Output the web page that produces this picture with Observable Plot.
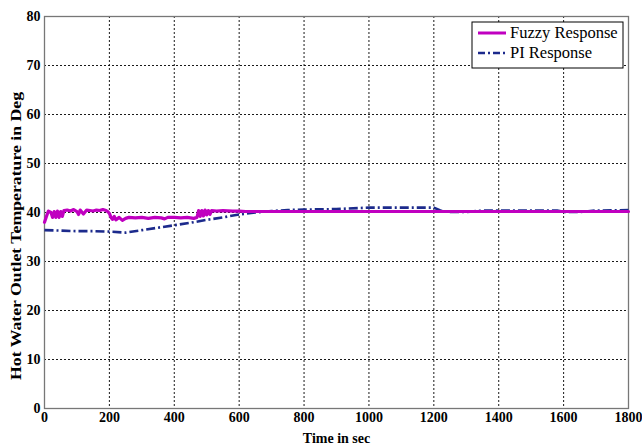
<!DOCTYPE html>
<html>
<head>
<meta charset="utf-8">
<script src="https://cdn.jsdelivr.net/npm/d3@7"></script>
<script src="https://cdn.jsdelivr.net/npm/@observablehq/plot@0.6"></script>
<style>
  html, body { margin: 0; padding: 0; background: #fff; }
  #chart { position: relative; width: 642px; height: 444px; }
</style>
</head>
<body>
<div id="chart"></div>
<script>
// Fuzzy controller response (time s, temperature deg)
const fuzzyTime = [0,5,12,20,25,30,35,40,45,50,55,60,70,80,90,100,105,110,120,130,140,150,160,170,180,190,195,200,205,210,215,220,230,240,250,260,280,300,320,340,360,370,380,400,420,440,460,470,475,480,485,490,495,500,505,510,515,530,550,580,600,620,1800];
const fuzzyTemp = [38.0,39.0,40.3,40.0,39.0,40.2,39.0,40.3,39.0,40.2,39.2,40.4,40.5,40.3,40.6,40.2,39.6,40.5,39.7,40.5,40.4,40.3,40.5,40.4,40.6,40.4,40.2,39.8,39.0,38.6,39.2,38.5,39.0,38.4,38.8,39.0,38.9,39.0,38.8,39.0,38.9,38.7,39.0,39.0,38.9,39.0,38.8,39.0,40.4,39.2,40.4,39.3,40.5,39.5,40.4,39.6,40.4,40.3,40.4,40.3,40.3,40.2,40.2];

// PI controller response
const piTime = [0,50,100,150,200,250,300,350,400,450,500,550,600,650,700,750,800,900,1000,1100,1200,1220,1250,1300,1350,1500,1580,1600,1650,1700,1800];
const piTemp = [36.4,36.3,36.2,36.2,36.1,35.9,36.4,36.9,37.4,37.9,38.5,39.0,39.6,40.0,40.3,40.5,40.6,40.7,41.0,41.0,41.0,40.4,40.1,40.1,40.4,40.4,40.4,40.1,40.1,40.4,40.5];

const xTicks = [0,200,400,600,800,1000,1200,1400,1600,1800];
const yTicks = [0,10,20,30,40,50,60,70,80];
const xLabel = "Time in sec";
const yLabel = "Hot Water Outlet Temperature in Deg";
const seriesNames = ["Fuzzy Response", "PI Response"];
const seriesColors = ["#c000c0", "#1c2a8c"];

const fuzzy = fuzzyTime.map((t, i) => ({t, v: fuzzyTemp[i]}));
const pi = piTime.map((t, i) => ({t, v: piTemp[i]}));

const chart = Plot.plot({
  width: 642,
  height: 444,
  marginLeft: 44,
  marginRight: 14,
  marginTop: 16,
  marginBottom: 36,
  style: {fontFamily: "Liberation Serif", fontSize: "14px", fontWeight: "bold", color: "#000", background: "#fff"},
  x: {domain: [0, 1800], ticks: xTicks, tickFormat: d => String(d), tickSize: 0, tickPadding: 4, label: xLabel, labelAnchor: "center", labelArrow: "none", labelOffset: 34},
  y: {domain: [0, 80], ticks: yTicks, tickFormat: d => String(d), tickSize: 0, tickPadding: 4, label: null},
  marks: [
    Plot.gridX(xTicks, {stroke: "#000", strokeOpacity: 0.9, strokeDasharray: "2,2"}),
    Plot.gridY(yTicks, {stroke: "#000", strokeOpacity: 0.9, strokeDasharray: "2,2"}),
    Plot.frame({stroke: "#777", strokeWidth: 1.3}),
    Plot.line(pi, {x: "t", y: "v", stroke: seriesColors[1], strokeWidth: 2.6, strokeDasharray: "9,3,2,3", strokeLinecap: "butt"}),
    Plot.line(fuzzy, {x: "t", y: "v", stroke: seriesColors[0], strokeWidth: 3.2}),
  ]
});
document.getElementById("chart").appendChild(chart);

const svg = d3.select(chart);

// Y axis title (MATLAB draws it stretched along its length)
svg.append("text")
  .attr("transform", "translate(16,236) rotate(-90)")
  .attr("textLength", 288)
  .attr("lengthAdjust", "spacingAndGlyphs")
  .style("text-anchor", "middle")
  .style("dominant-baseline", "central")
  .style("font-family", "Liberation Serif").style("font-size", "15px").style("font-weight", "bold").style("fill", "#000")
  .text(yLabel);

// Legend inside the axes (top-right), as in the MATLAB figure
const lg = svg.append("g").attr("transform", "translate(472,22)");
lg.append("rect").attr("width", 151).attr("height", 46)
  .style("fill", "#fff").style("stroke", "#000").style("stroke-width", "1px");
seriesNames.forEach((name, i) => {
  const y = 11 + i * 20;
  lg.append("line").attr("x1", 6).attr("x2", 34).attr("y1", y).attr("y2", y)
    .style("stroke", seriesColors[i]).style("stroke-width", i === 0 ? "3px" : "2.6px")
    .style("stroke-dasharray", i === 0 ? "none" : "7,3,2,3");
  lg.append("text").attr("x", 38).attr("y", y + 5).text(name)
    .style("text-anchor", "start")
    .style("font-family", "Liberation Serif").style("font-size", "16.5px").style("font-weight", "normal").style("fill", "#000");
});
</script>
</body>
</html>
